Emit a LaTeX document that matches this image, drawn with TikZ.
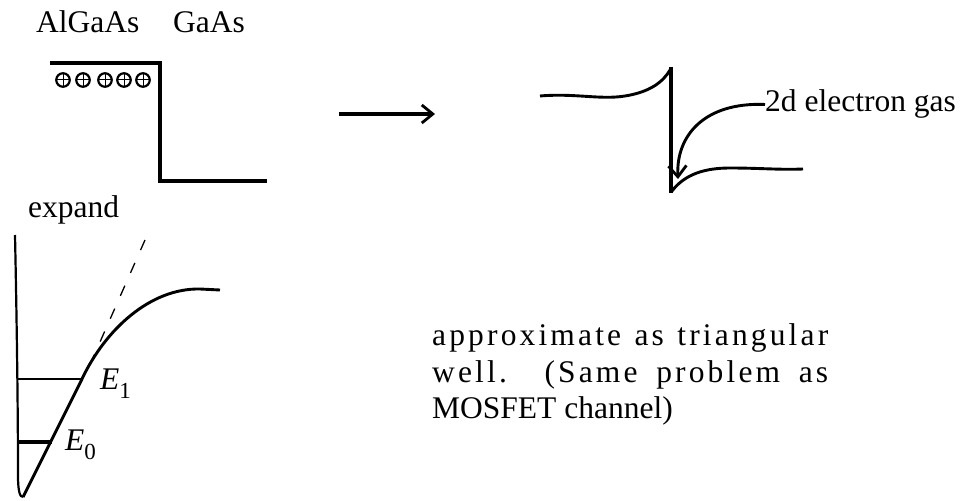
\documentclass[tikz,border=0pt]{standalone}
\usepackage{fontspec}
\setmainfont{Liberation Serif}
\newfontfamily\spaced[LetterSpace=10]{Liberation Serif}
\usetikzlibrary{arrows.meta}
\tikzset{
  band/.style={line width=3.4pt},
  curveline/.style={line width=2.9pt},
  thinline/.style={line width=2.2pt},
  dashline/.style={line width=1.3pt, dash pattern=on 11pt off 14pt},
  lbl/.style={inner sep=0pt, anchor=base west, font=\fontsize{31.5}{33}\selectfont},
  ion/.style={circle, draw, line width=2.2pt, minimum size=13.5pt, inner sep=0pt},
  barb/.style={-{Straight Barb[length=11pt,width=18pt,line width=2.8pt]}},
}
\begin{document}
\begin{tikzpicture}[x=1pt,y=-1pt]
\useasboundingbox (0,0) rectangle (965,500);
% labels
\node[lbl] (algaas) at (36,33) {AlGaAs};
\node[lbl] (gaas) at (173,33) {GaAs};
\node[lbl] (expand) at (28,217) {expand};
% step band
\draw[band] (50,63) -- (160,63) -- (160,181) -- (267,181);
\foreach \i/\x in {1/63,2/83,3/105,4/124,5/143}{
  \node[ion] (ion\i) at (\x,80) {};
  \draw[line width=1pt] (\x-6,80) -- (\x+6,80) (\x,74) -- (\x,86);
}
% main arrow
\coordinate (a1) at (339,114);
\coordinate (a2) at (435,114);
\draw[line width=3pt, barb] (a1) -- (a2);
% bent band
\draw[curveline] (540,96) .. controls (575,93) and (600,100) .. (625,96)
  .. controls (650,92) and (663,82) .. (670,70);
\draw[band] (671,67) -- (671,193);
\draw[curveline] (672,191) .. controls (685,174) and (705,168) .. (730,168)
  .. controls (760,168) and (780,170) .. (803,169);
\node[lbl] (gas) at (765,112) {2d electron gas};
\coordinate (tip) at (678,179);
\draw[curveline, barb] (gas.west) .. controls (705,102) and (676,135) .. (tip);
% expanded triangular well
\draw[thinline] (15,235) .. controls (17,330) and (18,420) .. (18,475)
  .. controls (18,492) and (20,497) .. (23,497);
\draw[curveline] (23,497) -- (82,379) .. controls (105,330) and (150,288) .. (200,289) -- (220,290);
\draw[dashline] (145,240) -- (85,376);
\coordinate (e1l) at (18,379);
\coordinate (e1r) at (82,379);
\coordinate (e0l) at (18,442);
\coordinate (e0r) at (52,442);
\draw[thinline] (e1l) -- (e1r);
\draw[band] (e0l) -- (e0r);
\node[lbl] (E1) at (100,389) {\textit{E}\raisebox{-9pt}{\fontsize{23}{23}\selectfont 1}};
\node[lbl] (E0) at (65,450) {\textit{E}\raisebox{-9pt}{\fontsize{23}{23}\selectfont 0}};
% text block (justified lines)
\node[lbl] (txt1) at (432,345) {\makebox[396pt][s]{\spaced approximate as triangular}};
\node[lbl] (txt2) at (432,382) {\makebox[396pt][s]{\spaced well. (Same problem as}};
\node[lbl] (txt3) at (432,418) {MOSFET channel)};
\end{tikzpicture}
\end{document}
